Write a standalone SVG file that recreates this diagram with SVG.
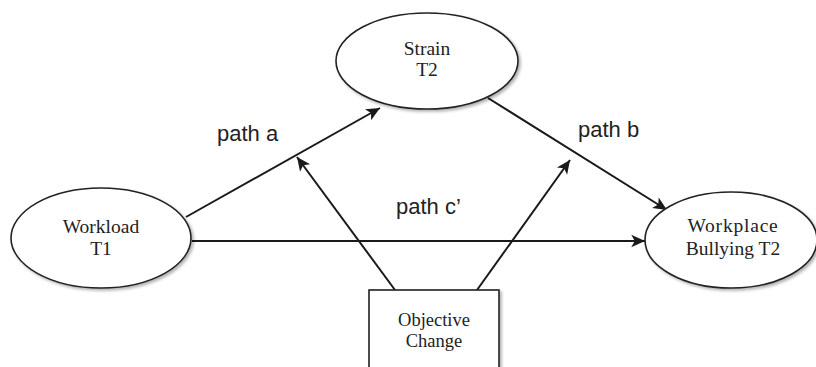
<svg xmlns="http://www.w3.org/2000/svg" width="816" height="367" viewBox="0 0 816 367">
<defs>
<filter id="sh" x="-10%" y="-10%" width="130%" height="130%">
<feDropShadow dx="2" dy="2" stdDeviation="1.5" flood-color="#000" flood-opacity="0.3"/>
</filter>
<marker id="arr" markerUnits="userSpaceOnUse" markerWidth="16" markerHeight="16" viewBox="0 0 14 14" refX="13" refY="7" orient="auto">
<path d="M1,1.5 L13,7 L1,12.5 L4,7 z" fill="#1a1a1a"/>
</marker>
</defs>
<style>
.node{fill:#fff;stroke:#222;stroke-width:1.6;filter:url(#sh)}
.nt{font-family:"Liberation Serif","Times New Roman",serif;font-size:19.5px;fill:#222;text-anchor:middle}
.bt{font-family:"Liberation Serif","Times New Roman",serif;font-size:18.5px;fill:#222;text-anchor:middle}
.lbl{font-family:"Liberation Sans",Arial,sans-serif;font-size:22px;fill:#222}
.edge{stroke:#1a1a1a;stroke-width:2;fill:none;marker-end:url(#arr)}
</style>
<rect width="816" height="367" fill="#fff"/>
<g id="connectors">
<line class="edge" x1="186" y1="217" x2="380" y2="108"/>
<line class="edge" x1="488" y1="98" x2="667" y2="210"/>
<line class="edge" x1="192" y1="241" x2="645" y2="241"/>
<line class="edge" x1="395" y1="290" x2="297" y2="157"/>
<line class="edge" x1="477" y1="290" x2="570" y2="160"/>
</g>
<g id="strain">
<ellipse class="node" cx="427" cy="61" rx="91" ry="48"/>
<text class="nt" x="427" y="55">Strain</text>
<text class="nt" x="427" y="76">T2</text>
</g>
<g id="workload">
<ellipse class="node" cx="101" cy="238" rx="90" ry="50"/>
<text class="nt" x="101" y="233">Workload</text>
<text class="nt" x="101" y="255">T1</text>
</g>
<g id="bullying">
<ellipse class="node" cx="731" cy="240" rx="86" ry="48"/>
<text class="nt" x="733" y="232" letter-spacing="0.8">Workplace</text>
<text class="nt" x="733" y="255">Bullying T2</text>
</g>
<g id="objective">
<rect x="369" y="290" width="130" height="90" fill="#fff" stroke="#222" stroke-width="1.6" filter="url(#sh)"/>
<text class="bt" x="434" y="326">Objective</text>
<text class="bt" x="434" y="347">Change</text>
</g>
<g id="labels">
<text class="lbl" x="217" y="141">path a</text>
<text class="lbl" x="578" y="137">path b</text>
<text class="lbl" x="396" y="214">path c’</text>
</g>
</svg>
